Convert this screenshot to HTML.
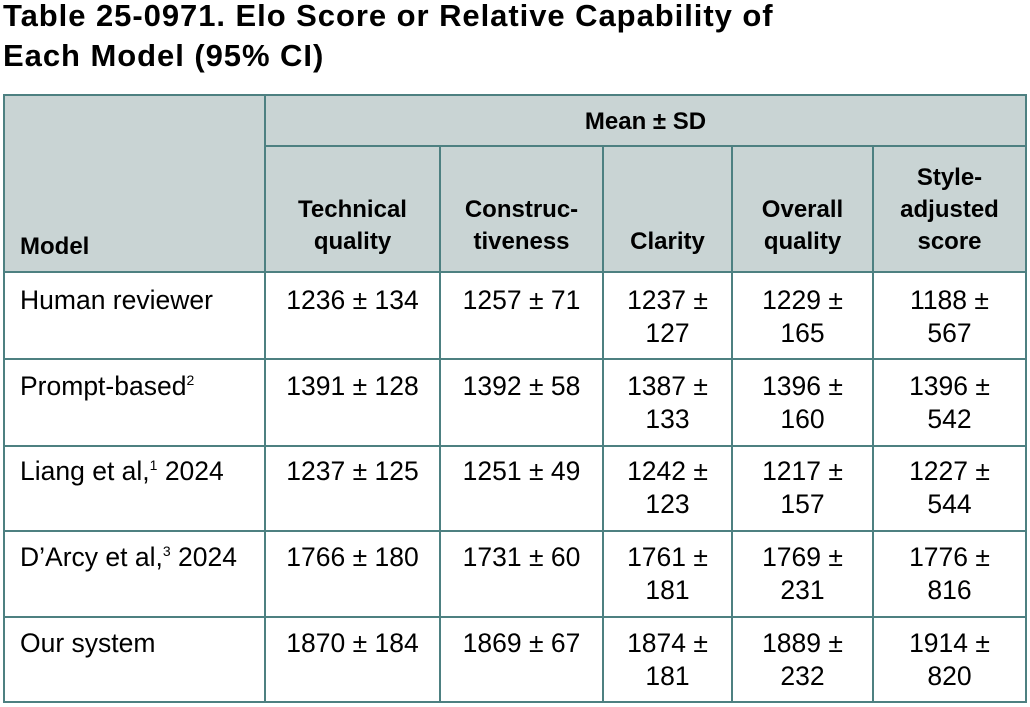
<!DOCTYPE html>
<html>
<head>
<meta charset="utf-8">
<style>
  html, body { margin:0; padding:0; background:#fff; }
  body { width:1030px; height:707px; position:relative; overflow:hidden;
         font-family:"Liberation Sans", Arial, sans-serif; color:#000; }
  .title { position:absolute; left:3px; font-size:31px; font-weight:bold; line-height:40px;
           letter-spacing:0.95px; white-space:nowrap; }
  .hbg { position:absolute; left:3px; top:94px; width:1024px; height:179px; background:#c9d4d4; }
  .vl { position:absolute; width:2px; background:#4d8081; }
  .hl { position:absolute; height:2px; background:#4d8081; }
  .h { position:absolute; font-size:24px; font-weight:bold; line-height:32px; text-align:center; white-space:nowrap; }
  .c { position:absolute; font-size:26.5px; line-height:33px; text-align:center; white-space:nowrap; }
  .m { position:absolute; left:20px; font-size:26.5px; line-height:33px; white-space:nowrap; }
  sup { font-size:14px; line-height:0; vertical-align:0; position:relative; top:-10px; }
</style>
</head>
<body>
  <div class="title" style="top:-4px;">Table 25-0971. Elo Score or Relative Capability of</div>
  <div class="title" style="top:36px;">Each Model (95% CI)</div>

  <div class="hbg"></div>

  <!-- horizontal lines -->
  <div class="hl" style="left:3px; top:94px; width:1024px;"></div>
  <div class="hl" style="left:264px; top:145px; width:763px;"></div>
  <div class="hl" style="left:3px; top:271px; width:1024px;"></div>
  <div class="hl" style="left:3px; top:358px; width:1024px;"></div>
  <div class="hl" style="left:3px; top:445px; width:1024px;"></div>
  <div class="hl" style="left:3px; top:530px; width:1024px;"></div>
  <div class="hl" style="left:3px; top:616px; width:1024px;"></div>
  <div class="hl" style="left:3px; top:701px; width:1024px;"></div>

  <!-- vertical lines -->
  <div class="vl" style="left:3px; top:94px; height:609px;"></div>
  <div class="vl" style="left:264px; top:94px; height:609px;"></div>
  <div class="vl" style="left:439px; top:145px; height:558px;"></div>
  <div class="vl" style="left:602px; top:145px; height:558px;"></div>
  <div class="vl" style="left:731px; top:145px; height:558px;"></div>
  <div class="vl" style="left:872px; top:145px; height:558px;"></div>
  <div class="vl" style="left:1025px; top:94px; height:609px;"></div>

  <!-- header -->
  <div class="h" style="left:266px; width:759px; top:106px;">Mean ± SD</div>
  <div class="h" style="left:20px; top:231px; text-align:left;">Model</div>
  <div class="h" style="left:266px; width:173px; top:194px;">Technical<br>quality</div>
  <div class="h" style="left:441px; width:161px; top:194px;">Construc-<br>tiveness</div>
  <div class="h" style="left:604px; width:127px; top:226px;">Clarity</div>
  <div class="h" style="left:733px; width:139px; top:194px;">Overall<br>quality</div>
  <div class="h" style="left:874px; width:151px; top:162px;">Style-<br>adjusted<br>score</div>

  <!-- row 1 -->
  <div class="m" style="top:284px;">Human reviewer</div>
  <div class="c" style="left:266px; width:173px; top:284px;">1236 ± 134</div>
  <div class="c" style="left:441px; width:161px; top:284px;">1257 ± 71</div>
  <div class="c" style="left:604px; width:127px; top:284px;">1237 ±<br>127</div>
  <div class="c" style="left:733px; width:139px; top:284px;">1229 ±<br>165</div>
  <div class="c" style="left:874px; width:151px; top:284px;">1188 ±<br>567</div>

  <!-- row 2 -->
  <div class="m" style="top:370px;">Prompt-based<sup>2</sup></div>
  <div class="c" style="left:266px; width:173px; top:370px;">1391 ± 128</div>
  <div class="c" style="left:441px; width:161px; top:370px;">1392 ± 58</div>
  <div class="c" style="left:604px; width:127px; top:370px;">1387 ±<br>133</div>
  <div class="c" style="left:733px; width:139px; top:370px;">1396 ±<br>160</div>
  <div class="c" style="left:874px; width:151px; top:370px;">1396 ±<br>542</div>

  <!-- row 3 -->
  <div class="m" style="top:455px;">Liang et al,<sup>1</sup> 2024</div>
  <div class="c" style="left:266px; width:173px; top:455px;">1237 ± 125</div>
  <div class="c" style="left:441px; width:161px; top:455px;">1251 ± 49</div>
  <div class="c" style="left:604px; width:127px; top:455px;">1242 ±<br>123</div>
  <div class="c" style="left:733px; width:139px; top:455px;">1217 ±<br>157</div>
  <div class="c" style="left:874px; width:151px; top:455px;">1227 ±<br>544</div>

  <!-- row 4 -->
  <div class="m" style="top:541px;">D’Arcy et al,<sup>3</sup> 2024</div>
  <div class="c" style="left:266px; width:173px; top:541px;">1766 ± 180</div>
  <div class="c" style="left:441px; width:161px; top:541px;">1731 ± 60</div>
  <div class="c" style="left:604px; width:127px; top:541px;">1761 ±<br>181</div>
  <div class="c" style="left:733px; width:139px; top:541px;">1769 ±<br>231</div>
  <div class="c" style="left:874px; width:151px; top:541px;">1776 ±<br>816</div>

  <!-- row 5 -->
  <div class="m" style="top:627px;">Our system</div>
  <div class="c" style="left:266px; width:173px; top:627px;">1870 ± 184</div>
  <div class="c" style="left:441px; width:161px; top:627px;">1869 ± 67</div>
  <div class="c" style="left:604px; width:127px; top:627px;">1874 ±<br>181</div>
  <div class="c" style="left:733px; width:139px; top:627px;">1889 ±<br>232</div>
  <div class="c" style="left:874px; width:151px; top:627px;">1914 ±<br>820</div>
</body>
</html>
